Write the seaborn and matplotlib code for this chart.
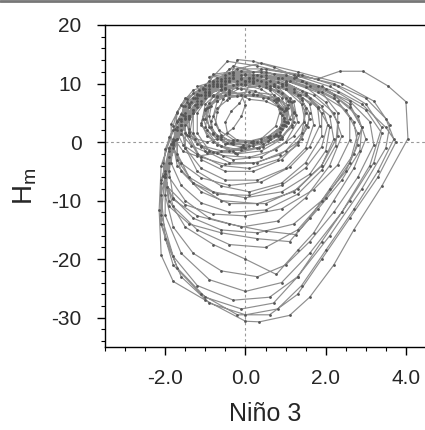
import matplotlib
matplotlib.use("Agg")
import matplotlib.pyplot as plt
from matplotlib.lines import Line2D
from matplotlib.ticker import MultipleLocator, FixedLocator
import seaborn as sns
import pandas as pd

# ---- data: trajectory in (Nino 3, H_m) phase space, cycle by cycle ----
cycle_01 = [(0.1,10.5),(0.7,9.5),(1.1,7),(1.2,3.5),(0.9,0.5),(0.4,-1.5),(-0.2,-2),(-0.7,-0.5),(-1.0,2.5),(-0.9,6),(-0.5,9)]
cycle_02 = [(0.2,11),(0.9,10),(1.4,7.5),(1.6,4),(1.4,0.5),(0.9,-3),(0.2,-5),(-0.5,-5),(-1.1,-3),(-1.4,1),(-1.3,5),(-0.9,8.5),(-0.4,10.5)]
cycle_03 = [(0.3,11.5),(1.1,10.5),(1.9,8.5),(2.3,5),(2.3,1),(1.9,-4),(1.2,-8.5),(0.3,-10.5),(-0.6,-10),(-1.3,-7),(-1.7,-3),(-1.7,2),(-1.4,6),(-0.9,9.5),(-0.3,11)]
cycle_04 = [(0.5,12.5),(1.4,11.5),(2.3,9.5),(3.0,6.5),(3.4,2.5),(3.1,-4),(2.4,-12),(1.6,-19),(0.9,-24),(0.0,-25.5),(-0.9,-23.5),(-1.6,-19),(-2.0,-12.5),(-2.0,-5.5),(-1.7,0.5),(-1.2,6),(-0.7,10),(-0.2,12.5)]
cycle_05 = [(0.4,13.5),(1.3,12),(2.4,10),(3.2,7),(3.6,3),(3.5,-1),(2.9,-8),(2.1,-16),(1.3,-23),(0.7,-27.5),(-0.1,-28.5),(-1.0,-26.5),(-1.7,-21.5),(-2.1,-14),(-2.1,-6.5),(-1.8,0),(-1.3,5.5),(-0.8,10),(-0.3,13)]
cycle_06 = [(0.2,12),(1.0,11.5),(1.9,9.5),(2.6,6.5),(2.9,2.5),(2.7,-2),(2.1,-8),(1.6,-13),(1.1,-17),(0.3,-16.5),(-0.6,-15.5),(-1.4,-14),(-1.9,-11),(-2.0,-6),(-1.8,-1),(-1.4,4),(-0.9,8),(-0.4,11)]
cycle_07 = [(0.0,10),(0.6,9.5),(1.0,7.5),(1.1,4),(0.8,1),(0.3,-1),(-0.3,-1.5),(-0.8,0),(-1.1,3),(-1.0,6.5),(-0.6,9)]
cycle_08 = [(0.1,8.6),(0.7,8.1),(1.05,6.3),(1.0,3.5),(0.75,1.2),(0.2,0.2),(-0.3,0.4),(-0.65,2),(-0.8,4.5),(-0.7,7.0),(-0.4,8.2)]
cycle_09 = [(0.2,10.5),(0.9,10),(1.5,8),(1.9,5),(1.9,1),(1.5,-3.5),(0.9,-7),(0.1,-8.5),(-0.6,-7.5),(-1.2,-5),(-1.5,-1),(-1.5,3),(-1.2,7),(-0.7,9.5)]
cycle_10 = [(-0.2,14.1),(0.2,13.8),(0.7,12.8),(1.27,11.2),(1.8,10.8),(2.35,12.1),(2.93,12.1),(3.55,9.6),(4.0,6.9),(4.05,0.6),(3.4,-7.5),(2.7,-15),(2.2,-21),(1.6,-26.5),(1.1,-29.6),(0.35,-30.7),(0.0,-30.6),(-1.0,-27),(-1.8,-23.8),(-2.1,-19.3),(-2.15,-11.6),(-2.1,-4),(-1.8,2),(-1.4,6.5)]
cycle_11 = [(-0.9,10.5),(-0.45,13.8),(0.3,13),(1.2,11.5),(2.1,9.5),(2.9,6.5),(3.5,2.5),(3.75,0),(3.3,-6),(2.6,-13),(1.9,-20),(1.3,-26),(0.6,-29.5),(-0.2,-29.5),(-1.1,-26),(-1.8,-21),(-2.1,-14),(-2.1,-7),(-1.9,-1),(-1.5,4.5),(-1.0,8.5)]
cycle_12 = [(-0.5,11.5),(0.2,11.5),(1.0,10.5),(1.8,8.5),(2.5,5.5),(2.8,1.5),(2.6,-3.5),(2.0,-9.5),(1.3,-15),(0.5,-18),(-0.4,-17.5),(-1.2,-15),(-1.8,-11),(-2.0,-6),(-1.9,-1),(-1.5,4),(-1.0,8)]
cycle_13 = [(-0.5,10.5),(0.2,10.5),(0.9,9.5),(1.6,7.5),(2.1,4.5),(2.2,0.5),(1.9,-4),(1.3,-8),(0.5,-10.5),(-0.4,-10.5),(-1.1,-8.5),(-1.6,-5),(-1.8,-0.5),(-1.6,4),(-1.2,7.5),(-0.7,9.5)]
cycle_14 = [(0.0,10.5),(0.7,9.5),(1.2,7),(1.3,3.5),(1.0,0),(0.4,-2.5),(-0.3,-3),(-0.9,-1.5),(-1.2,1.5),(-1.2,5),(-0.9,8)]
cycle_15 = [(-0.4,8.5),(0.2,8.0),(0.8,7.4),(1.0,5.6),(0.95,3),(0.6,1),(0.0,0),(-0.6,0.5),(-0.9,2.5),(-1.0,5.5),(-0.7,7.8)]
cycle_16 = [(-0.2,10),(0.5,10),(1.2,8.5),(1.8,6),(2.1,2.5),(2.0,-1.5),(1.6,-5.5),(0.9,-8.5),(0.0,-9.5),(-0.8,-8.5),(-1.4,-6),(-1.7,-2),(-1.7,2.5),(-1.4,6),(-0.9,9)]
cycle_17 = [(-0.3,11.5),(0.5,11.5),(1.4,10.5),(2.3,8.5),(3.0,5.5),(3.4,1.5),(3.2,-3.5),(2.6,-10),(1.9,-17),(1.3,-23),(0.6,-26.5),(-0.3,-27),(-1.2,-24.5),(-1.8,-19.5),(-2.1,-12.5),(-2.0,-5.5),(-1.7,0.5),(-1.3,5.5),(-0.8,9.5)]
cycle_18 = [(-0.3,12),(0.5,12),(1.4,10.5),(2.2,8),(2.8,4.5),(3.0,0.5),(2.7,-4.5),(2.2,-10),(1.7,-15.5),(1.3,-18.5),(0.77,-22.6),(0.0,-20),(-0.8,-17.5),(-1.5,-14.5),(-1.9,-10),(-2.0,-5),(-1.8,0),(-1.4,4.5),(-0.9,8.5)]
cycle_19 = [(-0.4,12.5),(0.4,12.5),(1.3,11.5),(2.2,10),(3.0,7.5),(3.5,4),(3.7,0.5),(3.3,-5),(2.7,-11.5),(2.0,-18.5),(1.4,-24.5),(0.8,-28.5),(0.0,-29.5),(-0.9,-27.5),(-1.6,-23),(-2.0,-16.5),(-2.1,-9),(-1.9,-2.5),(-1.6,3),(-1.1,8)]
cycle_20 = [(-0.5,11),(0.2,11),(1.0,10),(1.7,8),(2.2,5),(2.4,1),(2.1,-4),(1.5,-9.5),(0.8,-13.5),(-0.1,-14.5),(-0.9,-13),(-1.5,-10),(-1.9,-6),(-1.9,-1.5),(-1.6,3),(-1.1,7),(-0.6,9.5)]
cycle_21 = [(0.0,10.5),(0.7,10),(1.3,8),(1.5,5),(1.4,1.5),(1.0,-1.5),(0.3,-3.5),(-0.4,-3.5),(-1.0,-1.5),(-1.3,1.5),(-1.3,5),(-1.0,8),(-0.5,10)]
cycle_22 = [(0.2,8.2),(0.8,7.5),(1.05,5.9),(1.05,3.5),(0.8,1),(0.3,0),(-0.3,0),(-0.8,1.5),(-1.0,4),(-0.9,6.6),(-0.5,8)]
cycle_23 = [(0.1,11),(0.9,11),(1.8,9.5),(2.6,7),(3.1,3.5),(3.2,-0.5),(2.8,-6),(2.2,-12),(1.6,-17),(1.0,-21),(0.3,-23),(-0.6,-22),(-1.3,-19),(-1.8,-14.5),(-2.0,-9),(-1.9,-3.5),(-1.6,2),(-1.1,6.5),(-0.6,10)]
cycle_24 = [(0.0,11.5),(0.8,11),(1.6,9.5),(2.3,7),(2.7,3.5),(2.8,-0.5),(2.5,-5),(1.9,-10),(1.2,-14),(0.3,-15.5),(-0.6,-15),(-1.3,-13),(-1.8,-9.5),(-1.9,-5),(-1.8,0),(-1.4,4.5),(-0.9,8.5),(-0.4,10.5)]
cycle_25 = [(-0.2,10.5),(0.4,10.5),(1.0,9),(1.4,6.5),(1.5,3),(1.3,-0.5),(0.8,-3),(0.1,-4.5),(-0.6,-4),(-1.2,-2),(-1.5,1.5),(-1.5,5),(-1.2,8),(-0.7,10)]
cycle_26 = [(-0.1,11),(0.6,10.5),(1.2,9),(1.6,6.5),(1.7,3),(1.5,-1),(1.0,-4.5),(0.3,-6.5),(-0.5,-6.5),(-1.1,-4.5),(-1.5,-1),(-1.6,3),(-1.4,6.5),(-1.0,9),(-0.5,10.5)]
cycle_27 = [(-0.3,9.8),(0.2,10.3),(0.6,9.2),(0.9,7.6),(1.0,5.8),(0.95,3.6),(0.85,1.8),(0.55,0.2),(0.1,-0.6),(-0.35,-0.2),(-0.6,1.2),(-0.75,3.1),(-0.7,5.2),(-0.55,7.4),(-0.4,8.9)]
cycle_28 = [(-0.1,9.1),(0.35,9.6),(0.8,8.8),(1.05,7.1),(1.2,5.0),(1.15,2.9),(0.9,0.9),(0.45,-0.8),(-0.1,-1.4),(-0.6,-0.7),(-0.95,1.0),(-1.1,3.2),(-1.0,5.6),(-0.8,7.8),(-0.5,9.3)]
cycle_29 = [(-0.6,10.8),(-0.1,11.4),(0.5,11.0),(1.0,9.8),(1.35,8.0),(1.5,5.9),(1.45,3.4),(1.2,1.0),(0.75,-1.3),(0.1,-2.6),(-0.55,-2.3),(-1.1,-0.8),(-1.4,1.5),(-1.5,4.2),(-1.35,6.9),(-1.05,9.0)]
cycle_30 = [(-0.8,10.2),(-0.3,10.9),(0.3,10.6),(0.8,9.4),(1.1,7.5),(1.2,5.2),(1.0,2.8),(0.6,0.6),(0.0,-1.0),(-0.6,-1.5),(-1.1,-0.6),(-1.45,1.2),(-1.6,3.6),(-1.55,6.1),(-1.3,8.3),(-1.0,9.7)]
cycle_31 = [(-0.4,7.6),(0.0,7.9),(0.45,7.6),(0.75,6.9),(0.9,5.6),(0.95,4.2),(0.85,2.4),(0.55,0.9),(0.15,0.0),(-0.3,-0.3),(-0.7,0.5),(-0.95,2.0),(-1.05,4.0),(-0.95,5.8),(-0.7,7.1)]
cycle_32 = [(-1.2,9.5),(-0.7,10.5),(-0.1,10.8),(0.5,10.2),(1.0,9.0),(1.4,7.2),(1.6,5.0),(1.55,2.5),(1.3,0.0),(0.85,-2.2),(0.2,-3.6),(-0.5,-3.8),(-1.1,-2.6),(-1.55,-0.5),(-1.75,2.2),(-1.7,5.0),(-1.5,7.5)]
cycle_33 = [(-0.9,11.2),(-0.3,11.8),(0.4,11.3),(1.0,10.2),(1.5,8.4),(1.8,5.9),(1.85,2.8),(1.6,-0.8),(1.1,-4.3),(0.4,-6.8),(-0.4,-7.4),(-1.1,-6.1),(-1.6,-3.6),(-1.85,-0.4),(-1.85,3.1),(-1.6,6.4),(-1.3,8.9)]
cycle_34 = [(-0.8,11.6),(-0.1,12.2),(0.7,11.6),(1.5,10.1),(2.2,7.6),(2.6,4.2),(2.6,0.3),(2.3,-3.9),(1.7,-8.1),(0.9,-11.4),(0.0,-12.6),(-0.8,-12.3),(-1.5,-10.7),(-1.95,-7.6),(-2.05,-3.5),(-1.9,0.8),(-1.6,4.8),(-1.2,8.2)]
cycle_35 = [(0.1,7.3),(0.5,7.0),(0.85,5.9),(0.95,4.1),(0.9,2.3),(0.6,0.6),(0.2,-0.2),(-0.2,0.3),(-0.45,1.6),(-0.5,3.4),(-0.35,5.3),(-0.15,6.6)]
cycle_36 = [(-0.2,7.9),(0.3,8.1),(0.7,7.2),(1.0,5.5),(1.05,3.2),(0.85,1.2),(0.45,-0.3),(-0.05,-0.9),(-0.5,-0.3),(-0.8,1.4),(-0.85,3.6),(-0.7,5.8),(-0.45,7.2)]
cycle_37 = [(-1.0,8.5),(-0.6,9.6),(-0.1,9.9),(0.4,9.0),(0.75,7.4),(0.95,5.3),(0.95,3.0),(0.7,1.0),(0.2,-0.6),(-0.4,-1.6),(-0.95,-1.8),(-1.35,-0.6),(-1.6,1.4),(-1.65,3.9),(-1.5,6.2),(-1.25,7.6)]
cycle_38 = [(-0.9,9.8),(-0.4,10.4),(0.2,10.1),(0.6,8.9),(0.8,7.2),(0.85,5.0),(0.75,2.7),(0.4,0.6),(-0.1,-0.9),(-0.7,-1.9),(-1.2,-2.4),(-1.55,-1.6),(-1.75,0.3),(-1.8,2.8),(-1.7,5.2),(-1.45,7.4),(-1.15,8.9)]
cycle_39 = [(-0.8,8.0),(-0.4,8.6),(-0.1,8.0),(0.0,6.4),(-0.1,4.4),(-0.3,2.4),(-0.6,0.8),(-0.95,0.0),(-1.25,0.6),(-1.4,2.3),(-1.4,4.5),(-1.25,6.4),(-1.0,7.6)]
cycle_40 = [(-0.5,9.3),(0.0,9.7),(0.5,9.4),(0.9,8.4),(1.15,6.8),(1.25,4.7),(1.15,2.5),(0.85,0.5),(0.35,-1.0),(-0.25,-1.9),(-0.8,-1.7),(-1.2,-0.4),(-1.4,1.7),(-1.4,4.2),(-1.2,6.5),(-0.9,8.3)]
cycle_41 = [(-0.6,8.9),(-0.2,9.2),(0.25,8.7),(0.55,7.6),(0.8,6.2),(0.9,4.6),(0.9,3.0),(0.75,1.4),(0.4,0.1),(-0.05,-0.5),(-0.45,-0.2),(-0.7,1.0),(-0.85,2.6),(-0.9,4.4),(-0.85,6.2),(-0.7,7.7)]
cycle_42 = [(-0.7,11.0),(0.0,11.6),(0.8,11.0),(1.5,9.4),(2.0,6.8),(2.3,3.4),(2.25,-0.6),(1.9,-4.8),(1.3,-8.9),(0.5,-11.6),(-0.4,-12.0),(-1.1,-10.4),(-1.6,-7.4),(-1.85,-3.6),(-1.8,0.6),(-1.55,4.6),(-1.15,8.0)]
cycle_43 = [(-0.6,10.4),(0.1,10.9),(0.8,10.3),(1.4,8.7),(1.9,6.2),(2.05,3.0),(1.9,-0.8),(1.5,-4.4),(0.9,-7.4),(0.1,-9.1),(-0.7,-8.9),(-1.3,-7.0),(-1.7,-4.0),(-1.8,-0.4),(-1.7,3.4),(-1.45,6.8),(-1.05,9.2)]
cycle_44 = [(-0.4,11.8),(0.4,12.0),(1.2,11.0),(2.0,9.0),(2.6,6.0),(2.9,2.5),(2.85,-1.5),(2.4,-6.5),(1.8,-11.5),(1.25,-15.8),(0.5,-15.2),(-0.4,-14.0),(-1.2,-12.6),(-1.8,-9.8),(-2.05,-5.8),(-2.0,-1.2),(-1.7,3.6),(-1.3,7.6),(-0.8,10.4)]

cycles = [cycle_01, cycle_27, cycle_35, cycle_02, cycle_29, cycle_03, cycle_33,
          cycle_04, cycle_05, cycle_06, cycle_37, cycle_30, cycle_42, cycle_07,
          cycle_31, cycle_39, cycle_08, cycle_09, cycle_28, cycle_10, cycle_11,
          cycle_34, cycle_12, cycle_38, cycle_13, cycle_32, cycle_43, cycle_14,
          cycle_36, cycle_15, cycle_16, cycle_17, cycle_44, cycle_18, cycle_19,
          cycle_20, cycle_40, cycle_21, cycle_41, cycle_22, cycle_23, cycle_24,
          cycle_25, cycle_26]

x_ticks = [-2.0, 0.0, 2.0, 4.0]
x_tick_labels = ["-2.0", "0.0", "2.0", "4.0"]
y_ticks = [-30, -20, -10, 0, 10, 20]
y_tick_labels = ["-30", "-20", "-10", "0", "10", "20"]

pts = [p for c in cycles for p in c]
df = pd.DataFrame({"nino3": [p[0] for p in pts], "hm": [p[1] for p in pts]})

sns.set_theme(style="ticks")
plt.rcParams["font.family"] = ["Liberation Sans", "DejaVu Sans"]

fig = plt.figure(figsize=(4.25, 4.30), dpi=100)
ax = fig.add_axes([105/425, 1-347/430, 321/425, 322/430])

ax.axvline(0, color="#999999", lw=0.8, ls=(0, (2.5, 2.5)), zorder=1)
ax.axhline(0, color="#999999", lw=0.8, ls=(0, (2.5, 2.5)), zorder=1)

sns.lineplot(data=df, x="nino3", y="hm", sort=False, estimator=None, ax=ax,
             color="#8e8e8e", lw=0.85, marker="o", markersize=2.0,
             markerfacecolor="#555555", markeredgewidth=0, zorder=2)

ax.set_xlim(-3.5, 4.5)
ax.set_ylim(-35, 20)
ax.xaxis.set_major_locator(FixedLocator(x_ticks))
ax.set_xticklabels(x_tick_labels)
ax.yaxis.set_major_locator(FixedLocator(y_ticks))
ax.set_yticklabels(y_tick_labels)
ax.xaxis.set_minor_locator(MultipleLocator(0.5))
ax.yaxis.set_minor_locator(MultipleLocator(2))

ax.tick_params(which="major", direction="out", length=6, width=1, color="black",
               labelsize=15)
ax.tick_params(axis="y", which="major", pad=11)
ax.tick_params(axis="x", which="major", pad=10)
ax.tick_params(which="minor", direction="out", length=3, width=0.8, color="black")
ax.tick_params(axis="x", which="both", top=False)
ax.tick_params(axis="y", which="both", right=False)
for s in ["left", "bottom", "top"]:
    ax.spines[s].set_linewidth(1.0)
    ax.spines[s].set_color("black")
ax.spines["right"].set_visible(False)

ax.set_xlabel("Niño 3", fontsize=18, labelpad=10)
ax.set_ylabel(r"H$_\mathregular{m}$", fontsize=20, labelpad=9)

fig.add_artist(Line2D([0, 1], [0.998, 0.998], color="#777777", lw=2.0,
                      transform=fig.transFigure))

fig.savefig("out.png", dpi=100)
